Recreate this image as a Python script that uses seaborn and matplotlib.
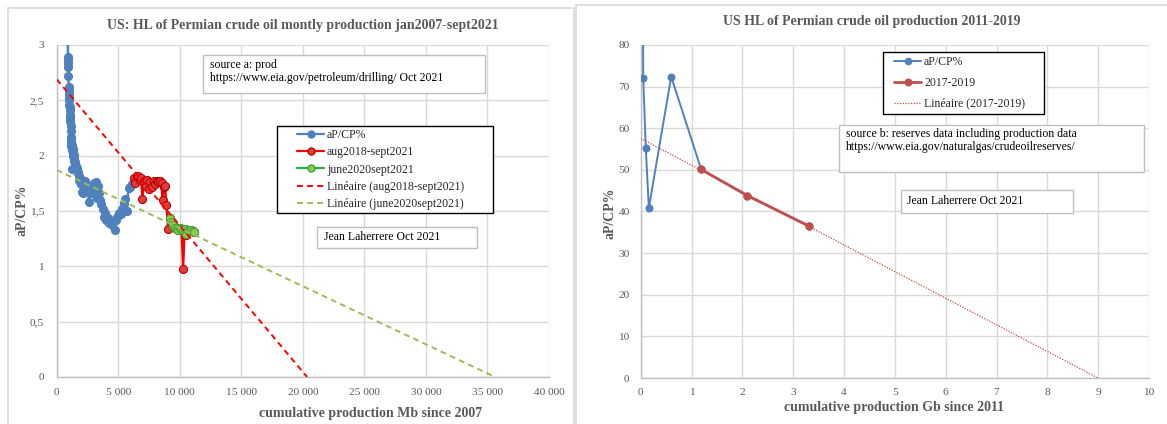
import numpy as np
import pandas as pd
import matplotlib
matplotlib.use("Agg")
import matplotlib.pyplot as plt
import seaborn as sns
from matplotlib.patches import Rectangle
from matplotlib.lines import Line2D
from matplotlib.ticker import FuncFormatter

# ---------------- data: left chart (monthly, Mb) ----------------
blue_x = [880, 905, 915, 925, 935, 945, 958, 970, 982, 995, 1008, 1020, 1033, 1046, 1058,
          1071, 1084, 1097, 1110, 1124, 1138, 1152, 1166, 1180, 1195, 1210, 1225, 1240, 1255,
          1270, 1286, 1302, 1318, 1335, 1352, 1370, 1390, 1412, 1436, 1462, 1490, 1520, 1552,
          1586, 1622, 1660, 1700, 1742, 1786, 1832, 1880, 1930, 1982, 2036, 2092, 2150, 2210,
          2272, 2336, 2402, 2470, 2540, 2612, 2686, 2762, 2840, 2920, 3002, 3086, 3172, 3260,
          3350, 3442, 3536, 3632, 3730, 3830, 3932, 4036, 4142, 4250, 4360, 4472, 4586, 4702,
          4820, 4940, 5062, 5186, 5312, 5440, 5570, 5702, 5836, 5972, 6110, 6250]
blue_y = [3.45, 3.05, 2.89, 2.87, 2.84, 2.80, 2.72, 2.62, 2.58, 2.53, 2.55, 2.50, 2.46, 2.44, 2.41,
          2.37, 2.34, 2.36, 2.31, 2.27, 2.22, 2.17, 2.14, 2.11, 2.09, 2.07, 2.10, 2.05, 2.06,
          1.88, 2.04, 2.06, 2.02, 2.04, 2.00, 2.01, 1.98, 1.97, 1.95, 1.92, 1.94, 1.90, 1.91,
          1.88, 1.89, 1.86, 1.84, 1.85, 1.82, 1.78, 1.80, 1.76, 1.74, 1.67, 1.75, 1.66, 1.73,
          1.77, 1.70, 1.74, 1.68, 1.72, 1.58, 1.70, 1.66, 1.72, 1.68, 1.75, 1.70, 1.76, 1.62,
          1.73, 1.66, 1.60, 1.56, 1.52, 1.45, 1.48, 1.42, 1.44, 1.39, 1.41, 1.37, 1.40, 1.33,
          1.42, 1.45, 1.48, 1.47, 1.52, 1.57, 1.61, 1.50, 1.71, 1.72, 1.74, 1.78]

red_x = [6250, 6370, 6490, 6610, 6730, 6850, 6970, 7090, 7220, 7350, 7480, 7610, 7740, 7870,
         8000, 8130, 8260, 8390, 8520, 8600, 8700, 8800, 8910, 9060,
         9230, 9360, 9490, 9620, 9750, 9880, 10010, 10140, 10270, 10400, 10530, 10660, 10790,
         10920, 11050, 11180]
red_y = [1.80, 1.75, 1.82, 1.82, 1.78, 1.80, 1.61, 1.77, 1.73, 1.78, 1.70, 1.76, 1.72, 1.77,
         1.74, 1.77, 1.76, 1.77, 1.75, 1.60, 1.72, 1.73, 1.55, 1.34,
         1.44, 1.40, 1.37, 1.35, 1.34, 1.33, 1.35, 1.34, 0.98, 1.34, 1.28, 1.33, 1.32,
         1.33, 1.32, 1.31]

green_x = [9230, 9360, 9490, 9620, 9750, 9880, 10010, 10140, 10270, 10400, 10530, 10660, 10790,
           10920, 11050, 11180]
green_y = [1.44, 1.40, 1.37, 1.35, 1.34, 1.33, 1.35, 1.34, 1.33, 1.34, 1.29, 1.33, 1.32,
           1.33, 1.32, 1.31]

# linear trends (intercept, slope)
red_trend = (2.69, -1.322e-4)
green_trend = (1.87, -5.25e-5)

left_xticks = [0, 5000, 10000, 15000, 20000, 25000, 30000, 35000, 40000]
left_yticks = [0, 0.5, 1, 1.5, 2, 2.5, 3]

# ---------------- data: right chart (annual, Gb) ----------------
rb_x = [0.03, 0.05, 0.10, 0.16, 0.60, 1.19, 2.10, 3.31]
rb_y = [130.0, 72.1, 55.2, 40.8, 72.4, 50.1, 43.8, 36.5]
rr_x = [1.19, 2.10, 3.31]
rr_y = [50.1, 43.8, 36.5]
right_xticks = list(range(0, 11))
right_yticks = list(range(0, 81, 10))

# ---------------- styling ----------------
sns.set_theme(style="white")
plt.rcParams['font.family'] = ['Liberation Serif', 'DejaVu Serif']

W, H = 1167, 424
fig = plt.figure(figsize=(W / 100, H / 100), dpi=100)
fig.patch.set_facecolor('white')


def fx(px):
    return px / W


def fy(py):
    return 1 - py / H


def frect(x0, y0, x1, y1, ec, lw=1.0, fc='none', z=1):
    r = Rectangle((fx(x0), fy(y1)), fx(x1) - fx(x0), fy(y0) - fy(y1), transform=fig.transFigure,
                  facecolor=fc, edgecolor=ec, lw=lw, zorder=z)
    fig.add_artist(r)


GRAY_TXT = '#595959'
GRID = '#D9D9D9'

# panel borders
frect(8, 8, 573.5, 440, '#D9D9D9', lw=1.2, z=0.5)
frect(575.5, 5, 1180, 440, '#D9D9D9', lw=1.2, z=0.5)

ax1 = fig.add_axes([fx(56.7), fy(377), (549 - 56.7) / W, (377 - 45) / H])
ax2 = fig.add_axes([fx(640.7), fy(378), (1149 - 640.7) / W, (378 - 45) / H])

for ax in (ax1, ax2):
    ax.set_facecolor('white')
    ax.grid(True, color=GRID, lw=1.0)
    ax.set_axisbelow(True)
    for s in ('top', 'right'):
        ax.spines[s].set_visible(False)
    for s in ('left', 'bottom'):
        ax.spines[s].set_color('#BFBFBF')
        ax.spines[s].set_linewidth(1.0)
    ax.tick_params(length=0, labelsize=8.2, labelcolor=GRAY_TXT)

BLUE = '#4F81BD'
MS = 5.8

# ---- left chart ----
sns.lineplot(x=blue_x, y=blue_y, ax=ax1, sort=False, estimator=None, color=BLUE, lw=1.8,
             marker='o', markersize=MS, markerfacecolor=BLUE, markeredgecolor=BLUE, zorder=3)
sns.lineplot(x=red_x, y=red_y, ax=ax1, sort=False, estimator=None, color='#FF0000', lw=1.7,
             marker='o', markersize=MS, markerfacecolor='#E03C3C', markeredgecolor='#C00000',
             markeredgewidth=0.8, zorder=4)
sns.lineplot(x=green_x, y=green_y, ax=ax1, sort=False, estimator=None, color='#22B04B', lw=1.7,
             marker='o', markersize=MS, markerfacecolor='#92C84E', markeredgecolor='#3AA63A',
             markeredgewidth=0.8, zorder=5)

for (b, m), col in ((red_trend, '#FF0000'), (green_trend, '#9BBB59')):
    xs = np.array([0.0, -b / m])
    ys = b + m * xs
    ax1.plot(xs, ys, color=col, lw=1.4, dashes=(3.0, 2.2), zorder=6)

ax1.set_xlim(0, 40000)
ax1.set_ylim(0, 3)
ax1.set_xticks(left_xticks)
ax1.set_yticks(left_yticks)
ax1.xaxis.set_major_formatter(FuncFormatter(lambda v, p: f"{int(v):,}".replace(',', ' ')))
ax1.yaxis.set_major_formatter(FuncFormatter(lambda v, p: ('%g' % v).replace('.', ',')))
ax1.tick_params(axis='x', pad=8)
ax1.tick_params(axis='y', pad=9)
ax1.set_xlabel('')
ax1.set_ylabel('')

# ---- right chart ----
sns.lineplot(x=rb_x, y=rb_y, ax=ax2, sort=False, estimator=None, color=BLUE, lw=1.4,
             marker='o', markersize=5, markerfacecolor=BLUE, markeredgecolor=BLUE, zorder=3)
sns.lineplot(x=rr_x, y=rr_y, ax=ax2, sort=False, estimator=None, color='#C0504D', lw=2.0,
             marker='o', markersize=5.2, markerfacecolor='#C0504D', markeredgecolor='#C0504D',
             zorder=4)
m2, b2 = np.polyfit(rr_x, rr_y, 1)
xs2 = np.array([0.0, -b2 / m2])
ax2.plot(xs2, b2 + m2 * xs2, color='#D04848', lw=0.9, dashes=(1.0, 1.2), zorder=5)

ax2.set_xlim(0, 10)
ax2.set_ylim(0, 80)
ax2.set_xticks(right_xticks)
ax2.set_yticks(right_yticks)
ax2.tick_params(axis='x', pad=7)
ax2.tick_params(axis='y', pad=8)
ax2.set_xlabel('')
ax2.set_ylabel('')

# ---- titles & labels ----
fig.text(fx(303), fy(25), 'US: HL of Permian crude oil montly production jan2007-sept2021',
         ha='center', va='center', fontsize=10, fontweight='bold', color=GRAY_TXT)
fig.text(fx(371), fy(413), 'cumulative production Mb since 2007', ha='center', va='center',
         fontsize=10, fontweight='bold', color=GRAY_TXT)
fig.text(fx(22), fy(210), 'aP/CP%', ha='center', va='center', rotation=90,
         fontsize=10, fontweight='bold', color=GRAY_TXT)

fig.text(fx(872), fy(21), 'US HL of Permian crude oil production 2011-2019',
         ha='center', va='center', fontsize=10, fontweight='bold', color=GRAY_TXT)
fig.text(fx(894), fy(407), 'cumulative production Gb since 2011', ha='center', va='center',
         fontsize=10, fontweight='bold', color=GRAY_TXT)
fig.text(fx(610), fy(213), 'aP/CP%', ha='center', va='center', rotation=90,
         fontsize=10, fontweight='bold', color=GRAY_TXT)

# ---- text boxes ----
BOXEC = '#BFBFBF'
frect(203, 55, 485, 93, BOXEC, fc='white', z=2)
fig.text(fx(210), fy(65), 'source a: prod', ha='left', va='center', fontsize=8.5, color='black', zorder=3)
fig.text(fx(210), fy(78), 'https://www.eia.gov/petroleum/drilling/ Oct 2021', ha='left', va='center',
         fontsize=8.5, color='black', zorder=3)

frect(317, 227, 477, 248, BOXEC, fc='white', z=2)
fig.text(fx(324), fy(237.5), 'Jean Laherrere Oct 2021', ha='left', va='center', fontsize=8.5,
         color='black', zorder=3)

frect(839, 125, 1144, 172, BOXEC, fc='white', z=2)
fig.text(fx(846), fy(134), 'source b: reserves data including production data', ha='left',
         va='center', fontsize=8.5, color='black', zorder=3)
fig.text(fx(846), fy(147), 'https://www.eia.gov/naturalgas/crudeoilreserves/', ha='left',
         va='center', fontsize=8.5, color='black', zorder=3)

frect(901, 190, 1073, 213, BOXEC, fc='white', z=2)
fig.text(fx(907), fy(201.5), 'Jean Laherrere Oct 2021', ha='left', va='center', fontsize=8.5,
         color='black', zorder=3)

# ---- legends ----
frect(277, 126, 493, 213, 'black', lw=1.0, fc='white', z=2)
h1 = [
    Line2D([], [], color=BLUE, lw=1.6, marker='o', markersize=5, mfc=BLUE, mec=BLUE),
    Line2D([], [], color='#FF0000', lw=1.6, marker='o', markersize=5, mfc='#E03C3C', mec='#C00000'),
    Line2D([], [], color='#22B04B', lw=1.6, marker='o', markersize=5, mfc='#92C84E', mec='#3AA63A'),
    Line2D([], [], color='#FF0000', lw=1.4, dashes=(3.0, 2.2)),
    Line2D([], [], color='#9BBB59', lw=1.4, dashes=(3.0, 2.2)),
]
l1 = ['aP/CP%', 'aug2018-sept2021', 'june2020sept2021', 'Linéaire (aug2018-sept2021)',
      'Linéaire (june2020sept2021)']
leg1 = fig.legend(h1, l1, loc='upper left', bbox_to_anchor=(fx(297), fy(129)),
                  bbox_transform=fig.transFigure, frameon=False, fontsize=8.5, handlelength=2.3,
                  handletextpad=0.25, labelspacing=0.45, borderpad=0, borderaxespad=0)
leg1.set_zorder(3)

frect(883, 52, 1044, 114, 'black', lw=1.0, fc='white', z=2)
h2 = [
    Line2D([], [], color=BLUE, lw=1.4, marker='o', markersize=4.5, mfc=BLUE, mec=BLUE),
    Line2D([], [], color='#C0504D', lw=2.0, marker='o', markersize=4.8, mfc='#C0504D', mec='#C0504D'),
    Line2D([], [], color='#D04848', lw=0.9, dashes=(1.0, 1.2)),
]
l2 = ['aP/CP%', '2017-2019', 'Linéaire (2017-2019)']
leg2 = fig.legend(h2, l2, loc='upper left', bbox_to_anchor=(fx(894), fy(56)),
                  bbox_transform=fig.transFigure, frameon=False, fontsize=8.5, handlelength=2.3,
                  handletextpad=0.25, labelspacing=0.75, borderpad=0, borderaxespad=0)
leg2.set_zorder(3)

fig.savefig('out.png', dpi=100, facecolor='white')
